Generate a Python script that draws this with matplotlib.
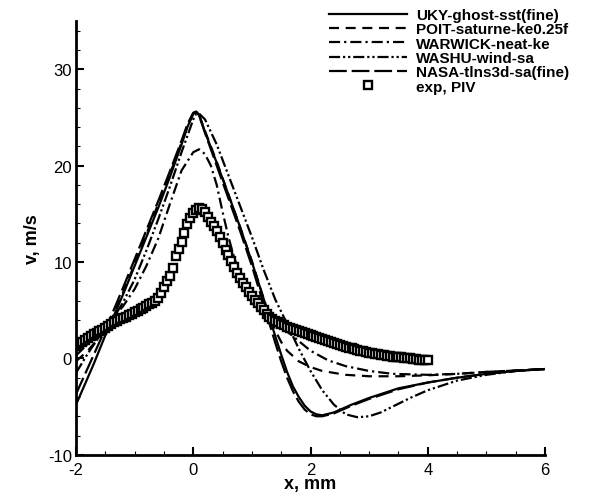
import numpy as np
import matplotlib
matplotlib.use("Agg")
import matplotlib.pyplot as plt
from matplotlib.ticker import MultipleLocator

plt.rcParams['font.family'] = ['Liberation Sans', 'DejaVu Sans']
plt.rcParams['axes.unicode_minus'] = False

# UKY-ghost-sst(fine)
uky_x = [-2.0, -1.9, -1.8, -1.7, -1.6, -1.5, -1.4, -1.2, -1.0, -0.8, -0.6, -0.4, -0.2, -0.1,
         0.0, 0.05, 0.1, 0.2, 0.4, 0.6, 0.8, 1.0, 1.2, 1.3, 1.4, 1.5, 1.6, 1.7, 1.8, 1.9,
         2.0, 2.1, 2.2, 2.4, 2.7, 3.0, 3.5, 4.0, 4.5, 5.0, 5.5, 6.0]
uky_v = [-4.8, -3.4, -2.0, -0.6, 0.9, 2.4, 3.8, 6.6, 9.6, 12.6, 15.6, 18.8, 22.2, 24.0,
         25.4, 25.6, 25.3, 23.5, 20.3, 17.0, 13.6, 10.0, 6.2, 4.2, 2.3, 0.4, -1.4, -2.9, -4.0, -4.9,
         -5.5, -5.8, -5.9, -5.6, -4.8, -4.1, -3.1, -2.5, -2.0, -1.6, -1.3, -1.1]

# POIT-saturne-ke0.25f
poit_x = [-2.0, -1.8, -1.6, -1.4, -1.2, -1.0, -0.8, -0.6, -0.4, -0.2, -0.1, 0.0, 0.05, 0.1,
          0.2, 0.4, 0.6, 0.8, 1.0, 1.2, 1.3, 1.4, 1.5, 1.6, 1.8, 2.0, 2.2, 2.6, 3.0, 3.5,
          4.0, 4.5, 5.0, 5.5, 6.0]
poit_v = [-0.3, 0.8, 2.2, 4.0, 6.8, 9.8, 12.9, 16.0, 19.1, 22.4, 24.1, 25.4, 25.5, 25.2,
          23.6, 20.4, 17.0, 13.6, 10.1, 6.2, 4.4, 2.9, 1.7, 0.8, -0.3, -0.9, -1.3, -1.7, -1.85, -1.85,
          -1.75, -1.6, -1.4, -1.25, -1.1]

# WARWICK-neat-ke
warwick_x = [-2.0, -1.8, -1.6, -1.4, -1.2, -1.0, -0.8, -0.6, -0.4, -0.2, 0.0, 0.1, 0.2, 0.3,
             0.4, 0.5, 0.6, 0.7, 0.8, 1.0, 1.2, 1.4, 1.6, 1.8, 2.0, 2.3, 2.6, 3.0, 3.4, 4.0,
             4.5, 5.0, 5.5, 6.0]
warwick_v = [0.3, 1.5, 2.8, 4.0, 5.4, 7.2, 9.6, 12.4, 16.0, 19.5, 21.4, 21.7, 21.2, 20.0,
             18.0, 15.2, 12.6, 10.4, 8.8, 6.6, 5.0, 3.8, 2.8, 1.8, 0.8, -0.2, -0.8, -1.3, -1.6, -1.7,
             -1.6, -1.4, -1.25, -1.1]

# WASHU-wind-sa
washu_x = [-2.0, -1.8, -1.6, -1.4, -1.2, -1.0, -0.8, -0.6, -0.4, -0.2, 0.0, 0.05, 0.1, 0.2,
           0.4, 0.6, 0.8, 1.0, 1.2, 1.4, 1.6, 1.8, 2.0, 2.2, 2.4, 2.6, 2.8, 3.0, 3.2, 3.4,
           3.7, 4.0, 4.5, 5.0, 5.5, 6.0]
washu_v = [-1.5, 0.5, 2.3, 3.8, 5.8, 8.2, 11.2, 14.4, 17.8, 21.4, 24.8, 25.4, 25.4, 24.8,
           22.2, 19.0, 15.8, 12.6, 9.2, 6.1, 3.6, 1.0, -1.3, -3.3, -4.8, -5.8, -6.1, -6.0, -5.6, -5.0,
           -4.1, -3.3, -2.3, -1.7, -1.3, -1.1]

# NASA-tlns3d-sa(fine)
nasa_x = [-2.0, -1.8, -1.6, -1.4, -1.2, -1.0, -0.8, -0.6, -0.4, -0.2, -0.1, 0.0, 0.05, 0.1,
          0.2, 0.4, 0.6, 0.8, 1.0, 1.2, 1.3, 1.4, 1.5, 1.6, 1.7, 1.8, 1.9, 2.0, 2.1, 2.2,
          2.4, 2.7, 3.0, 3.5, 4.0, 4.5, 5.0, 5.5, 6.0]
nasa_v = [-3.7, -1.0, 1.7, 4.4, 7.3, 10.3, 13.3, 16.3, 19.4, 22.6, 24.3, 25.5, 25.6, 25.2,
          23.4, 20.0, 16.6, 13.2, 9.6, 5.6, 3.6, 1.6, -0.3, -2.0, -3.4, -4.5, -5.3, -5.8, -6.0, -6.0,
          -5.7, -4.9, -4.2, -3.2, -2.5, -2.0, -1.6, -1.3, -1.1]

# exp, PIV
exp_x = [-2.0, -1.95, -1.9, -1.85, -1.8, -1.75, -1.7, -1.65, -1.6, -1.55, -1.5, -1.45,
         -1.4, -1.35, -1.3, -1.25, -1.2, -1.15, -1.1, -1.05, -1.0, -0.95, -0.9, -0.85,
         -0.8, -0.75, -0.7, -0.65, -0.6, -0.55, -0.5, -0.45, -0.4, -0.35, -0.3, -0.25,
         -0.2, -0.15, -0.1, -0.05, 0.0, 0.05, 0.1, 0.15, 0.2, 0.25, 0.3, 0.35,
         0.4, 0.45, 0.5, 0.55, 0.6, 0.65, 0.7, 0.75, 0.8, 0.85, 0.9, 0.95,
         1.0, 1.05, 1.1, 1.15, 1.2, 1.25, 1.3, 1.35, 1.4, 1.45, 1.5, 1.55,
         1.6, 1.65, 1.7, 1.75, 1.8, 1.85, 1.9, 1.95, 2.0, 2.05, 2.1, 2.15,
         2.2, 2.25, 2.3, 2.35, 2.4, 2.45, 2.5, 2.55, 2.6, 2.65, 2.7, 2.75,
         2.8, 2.85, 2.9, 2.95, 3.0, 3.05, 3.1, 3.15, 3.2, 3.25, 3.3, 3.35,
         3.4, 3.45, 3.5, 3.55, 3.6, 3.65, 3.7, 3.75, 3.8, 3.85, 3.9, 3.95, 4.0]
exp_v = [1.3, 1.5, 1.7, 1.9, 2.1, 2.3, 2.5, 2.65, 2.8, 3.0, 3.2, 3.4,
         3.6, 3.75, 3.9, 4.05, 4.2, 4.35, 4.5, 4.65, 4.8, 4.95, 5.1, 5.25,
         5.4, 5.6, 5.8, 6.0, 6.3, 6.8, 7.4, 8.0, 8.6, 9.4, 10.6, 11.4,
         12.1, 13.0, 13.9, 14.6, 15.1, 15.4, 15.6, 15.5, 15.2, 14.7, 14.2, 13.7,
         13.2, 12.6, 12.0, 11.3, 10.7, 10.1, 9.5, 8.9, 8.3, 7.8, 7.4, 6.9,
         6.5, 6.1, 5.7, 5.3, 5.0, 4.6, 4.3, 4.1, 3.9, 3.75, 3.6, 3.45,
         3.3, 3.2, 3.1, 2.95, 2.8, 2.7, 2.6, 2.5, 2.4, 2.3, 2.2, 2.1,
         2.0, 1.9, 1.8, 1.7, 1.6, 1.5, 1.4, 1.3, 1.2, 1.12, 1.05, 0.97,
         0.9, 0.82, 0.75, 0.67, 0.6, 0.55, 0.5, 0.45, 0.4, 0.35, 0.3, 0.25,
         0.2, 0.17, 0.15, 0.1, 0.05, 0.02, 0.0, -0.05, -0.1, -0.12, -0.15, -0.18, -0.2]

fig = plt.figure(figsize=(5.94, 5.02), dpi=100)
ax = fig.add_axes([0.128, 0.092, 0.7895, 0.864])

lw = 1.6
ax.plot(uky_x, uky_v, color='black', lw=lw, ls='-', label='UKY-ghost-sst(fine)')
ax.plot(poit_x, poit_v, color='black', lw=lw, ls=(0, (4.5, 3)), label='POIT-saturne-ke0.25f')
ax.plot(warwick_x, warwick_v, color='black', lw=lw, ls=(0, (5, 1.8, 1, 1.8)), label='WARWICK-neat-ke')
ax.plot(washu_x, washu_v, color='black', lw=lw, ls=(0, (5, 1.3, 1, 1.3, 1, 1.3)), label='WASHU-wind-sa')
ax.plot(nasa_x, nasa_v, color='black', lw=lw, ls=(0, (8, 2.2)), label='NASA-tlns3d-sa(fine)')
ax.plot(exp_x, exp_v, ls='none', marker='s', ms=5.5, mfc='white', mec='black', mew=1.7,
        label='exp, PIV')

ax.set_xlim(-2, 6)
ax.set_ylim(-10, 35)
ax.xaxis.set_major_locator(MultipleLocator(2))
ax.xaxis.set_minor_locator(MultipleLocator(0.5))
ax.yaxis.set_major_locator(MultipleLocator(10))
ax.yaxis.set_minor_locator(MultipleLocator(2))
ax.tick_params(which='major', direction='in', length=6, width=1.5, labelsize=12)
ax.tick_params(axis='x', which='major', pad=5)
ax.tick_params(axis='y', which='major', pad=3)
ax.tick_params(which='minor', direction='in', length=3, width=0.8)
ax.spines['top'].set_visible(False)
ax.spines['right'].set_visible(False)
ax.spines['left'].set_linewidth(2)
ax.spines['bottom'].set_linewidth(2)

ax.set_xlabel('x, mm', fontsize=13, fontweight='bold', labelpad=-1)
ax.set_ylabel('v, m/s', fontsize=13, fontweight='bold', labelpad=5)

ax.legend(loc='upper left', bbox_to_anchor=(0.554, 0.982), bbox_transform=fig.transFigure,
          frameon=False, prop={'weight': 'bold', 'size': 11}, handlelength=5.1,
          handletextpad=0.6, labelspacing=0.02, borderpad=0, borderaxespad=0, numpoints=1)

fig.savefig('out.png', dpi=100)
